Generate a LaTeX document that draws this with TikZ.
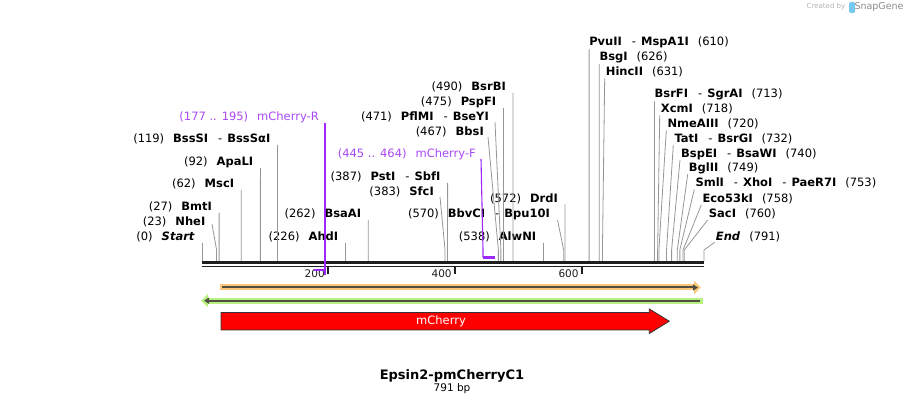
\documentclass[tikz,border=0pt]{standalone}
\usepackage{fontspec}
\setmainfont{DejaVu Sans}
\usetikzlibrary{arrows.meta}

\definecolor{cutgray}{RGB}{150,150,150}
\definecolor{primerviolet}{RGB}{155,40,250}
\definecolor{primertext}{RGB}{168,72,245}
\definecolor{haloorange}{RGB}{252,200,120}
\definecolor{halogreen}{RGB}{185,240,130}
\definecolor{featline}{RGB}{78,78,66}
\definecolor{bardark}{RGB}{30,30,30}
\definecolor{cdsred}{RGB}{255,0,0}
\definecolor{logoblue}{RGB}{120,200,240}

\newcommand{\siteGap}{\hspace{9pt}}
\newcommand{\siteDash}{\hspace{10pt}-\hspace{5pt}}

\begin{document}
\begin{tikzpicture}[x=1pt,y=-1pt,
    lbl/.style={inner sep=0pt,font=\fontsize{11.5}{13}\selectfont},
    lblL/.style={lbl,anchor=east},
    lblR/.style={lbl,anchor=west},
    cut/.style={cutgray,line width=0.8pt},
    prim/.style={primerviolet,line width=1.1pt},
    primbar/.style={primerviolet,line width=2.2pt},
    tick/.style={bardark,line width=1.8pt},
    ticklbl/.style={inner sep=0pt,anchor=east,font=\fontsize{10.5}{12}\selectfont,text=bardark}]
\useasboundingbox (0,0) rectangle (906,406);

% sites on the sequence
\foreach \p in {0,23,27,62,92,119,226,262,383,387,467,471,475,490,538,570,572,610,626,631,713,718,720,732,740,749,753,758,760,791}
    \coordinate (b\p) at ({202+0.6346*\p},261);

% labels left of their lines
\node[lblL] (Start) at (195,237) {(0)\siteGap\textbf{\textit{Start}}};
\node[lblL] (NheI) at (205.5,222) {(23)\siteGap\textbf{NheI}};
\node[lblL] (BmtI) at (212.1,207) {(27)\siteGap\textbf{BmtI}};
\node[lblL] (MscI) at (234.3,184) {(62)\siteGap\textbf{MscI}};
\node[lblL] (ApaLI) at (253.4,162) {(92)\siteGap\textbf{ApaLI}};
\node[lblL] (BssSI) at (270.5,139) {(119)\siteGap\textbf{BssSI}\siteDash\textbf{BssSαI}};
\node[lblL,text=primertext] (mchR) at (319,117) {(177 .. 195)\siteGap mCherry-R};
\node[lblL] (AhdI) at (338.4,237) {(226)\siteGap\textbf{AhdI}};
\node[lblL] (BsaAI) at (361.3,214) {(262)\siteGap\textbf{BsaAI}};
\node[lblL] (PstI) at (440.6,177) {(387)\siteGap\textbf{PstI}\siteDash\textbf{SbfI}};
\node[lblL] (SfcI) at (434,192) {(383)\siteGap\textbf{SfcI}};
\node[lblL] (BbvCI) at (550,214) {(570)\siteGap\textbf{BbvCI}\siteDash\textbf{Bpu10I}};
\node[lblL] (DrdI) at (558,198.5) {(572)\siteGap\textbf{DrdI}};
\node[lblL] (AlwNI) at (536.4,237) {(538)\siteGap\textbf{AlwNI}};
\node[lblL,text=primertext] (mchF) at (476,154) {(445 .. 464)\siteGap mCherry-F};
\node[lblL] (BbsI) at (484,132) {(467)\siteGap\textbf{BbsI}};
\node[lblL] (PflMI) at (489,117) {(471)\siteGap\textbf{PflMI}\siteDash\textbf{BseYI}};
\node[lblL] (PspFI) at (496.4,102) {(475)\siteGap\textbf{PspFI}};
\node[lblL] (BsrBI) at (506,87) {(490)\siteGap\textbf{BsrBI}};

% labels right of their lines
\node[lblR] (PvuII) at (589.1,42.3) {\textbf{PvuII}\siteDash\textbf{MspA1I}\siteGap(610)};
\node[lblR] (BsgI) at (599.3,57) {\textbf{BsgI}\siteGap(626)};
\node[lblR] (HincII) at (605.7,72.3) {\textbf{HincII}\siteGap(631)};
\node[lblR] (BsrFI) at (654.5,94.3) {\textbf{BsrFI}\siteDash\textbf{SgrAI}\siteGap(713)};
\node[lblR] (XcmI) at (660.7,109.3) {\textbf{XcmI}\siteGap(718)};
\node[lblR] (NmeAIII) at (667.3,124.3) {\textbf{NmeAIII}\siteGap(720)};
\node[lblR] (TatI) at (674.3,139) {\textbf{TatI}\siteDash\textbf{BsrGI}\siteGap(732)};
\node[lblR] (BspEI) at (681,154) {\textbf{BspEI}\siteDash\textbf{BsaWI}\siteGap(740)};
\node[lblR] (BglII) at (688.7,168.3) {\textbf{BglII}\siteGap(749)};
\node[lblR] (SmlI) at (695.3,183.3) {\textbf{SmlI}\siteDash\textbf{XhoI}\siteDash\textbf{PaeR7I}\siteGap(753)};
\node[lblR] (Eco53kI) at (702.3,199) {\textbf{Eco53kI}\siteGap(758)};
\node[lblR] (SacI) at (708.7,214) {\textbf{SacI}\siteGap(760)};
\node[lblR] (End) at (715.7,237.3) {\textbf{\textit{End}}\siteGap(791)};

% cut lines
\draw[cut] ([shift={(7,6)}]Start.east) -- (b0);
\draw[cut] ([shift={(6.5,2)}]NheI.east) -- ([yshift=11pt]b23) -- (b23);
\draw[cut] ([shift={(7,6)}]BmtI.east) -- (b27);
\draw[cut] ([shift={(7,6)}]MscI.east) -- (b62);
\draw[cut] ([shift={(7,6)}]ApaLI.east) -- (b92);
\draw[cut] ([shift={(7,6)}]BssSI.east) -- (b119);
\draw[cut] ([shift={(7,6)}]AhdI.east) -- (b226);
\draw[cut] ([shift={(7,6)}]BsaAI.east) -- (b262);
\draw[cut] ([shift={(7,6)}]PstI.east) -- (b387);
\draw[cut] ([shift={(6,5)}]SfcI.east) -- ([yshift=11pt]b383) -- (b383);
\draw[cut] ([shift={(7.5,6)}]BbvCI.east) -- ([yshift=11pt]b570) -- (b570);
\draw[cut] ([shift={(7,6)}]DrdI.east) -- (b572);
\draw[cut] ([shift={(7,6)}]AlwNI.east) -- (b538);
\draw[cut] ([shift={(4,5)}]BbsI.east) -- ([yshift=11pt]b467) -- (b467);
\draw[cut] ([shift={(6,5)}]PflMI.east) -- ([yshift=11pt]b471) -- (b471);
\draw[cut] ([shift={(7,6)}]PspFI.east) -- (b475);
\draw[cut] ([shift={(7,6)}]BsrBI.east) -- (b490);
\draw[cut] ([shift={(0,7)}]PvuII.west) -- (b610);
\draw[cut] ([shift={(0,7)}]BsgI.west) -- (b626);
\draw[cut] ([shift={(-1,6)}]HincII.west) -- ([yshift=11pt]b631) -- (b631);
\draw[cut] ([shift={(0,7)}]BsrFI.west) -- (b713);
\draw[cut] ([shift={(-1,6)}]XcmI.west) -- ([yshift=11pt]b718) -- (b718);
\draw[cut] ([shift={(-1,6)}]NmeAIII.west) -- ([yshift=11pt]b720) -- (b720);
\draw[cut] ([shift={(-1,6)}]TatI.west) -- ([yshift=11pt]b732) -- (b732);
\draw[cut] ([shift={(-1,6)}]BspEI.west) -- ([yshift=11pt]b740) -- (b740);
\draw[cut] ([shift={(-1,6)}]BglII.west) -- ([yshift=11pt]b749) -- (b749);
\draw[cut] ([shift={(-1,6)}]SmlI.west) -- ([yshift=11pt]b753) -- (b753);
\draw[cut] ([shift={(-1,6)}]Eco53kI.west) -- ([yshift=11pt]b758) -- (b758);
\draw[cut] ([shift={(-1,6)}]SacI.west) -- ([yshift=11pt]b760) -- (b760);
\draw[cut] ([shift={(-1,5)}]End.west) -- ([yshift=11pt]b791) -- (b791);

% the sequence
\draw[bardark,line width=3.3pt] (202,262.8) -- (704,262.8);
\draw[bardark,line width=1.7pt] (202,266.5) -- (704,266.5);
\foreach \t in {200,400,600} {
    \draw[tick] ({202+0.6346*\t-1},267) -- ++(0,7);
    \node[ticklbl] (tick\t) at ({202+0.6346*\t-4},273.5) {\t};
}

% primers
\coordinate (pR1) at (313.5,270.3);
\coordinate (pR2) at (325,270.3);
\coordinate (pF1) at (483,257.5);
\coordinate (pF2) at (495,257.5);
\draw[primbar] (pR1) -- (pR2);
\draw[prim] ([shift={(6,6)}]mchR.east) -- ([yshift=-5pt]pR2);
\draw[primbar] (pF1) -- (pF2);
\draw[prim] ([shift={(5,5)}]mchF.east) -- ([yshift=7.5pt]pF1) -- (pF1);

% features
\draw[haloorange,line width=6pt,-{Triangle[length=7pt,width=13pt]}] (220,287.5) -- (701,287.5);
\draw[featline,line width=2pt,-{Triangle[length=5pt,width=6pt]}] (222,287.5) -- (698,287.5);
\draw[halogreen,line width=6pt,{Triangle[length=7pt,width=13pt]}-] (201,300.7) -- (703,300.7);
\draw[featline,line width=2pt,{Triangle[length=5pt,width=6pt]}-] (204,300.7) -- (700,300.7);
\draw[fill=cdsred,draw=black!80,line width=0.8pt] (221,312.5) -- (649.3,312.5) -- (649.3,309)
    -- (669.3,321.2) -- (649.3,333.5) -- (649.3,330) -- (221,330) -- cycle;
\node[text=white,font=\fontsize{11.5}{13}\selectfont] (mCherry) at (441,321.2) {mCherry};

% name and size
\node[font=\fontsize{13}{15}\selectfont\bfseries] (title) at (452,375.5) {Epsin2-pmCherryC1};
\node[font=\fontsize{10.5}{12}\selectfont] (size) at (452,389) {791 bp};

% credit
\node[text=black!30,font=\fontsize{7}{8}\selectfont] (createdby) at (826,7) {Created by};
\fill[logoblue,rounded corners=1.5pt] (849,2) rectangle (855,13);
\node[text=black!45,font=\fontsize{9.5}{11}\selectfont] (snapgene) at (879,7) {SnapGene};
\end{tikzpicture}
\end{document}
